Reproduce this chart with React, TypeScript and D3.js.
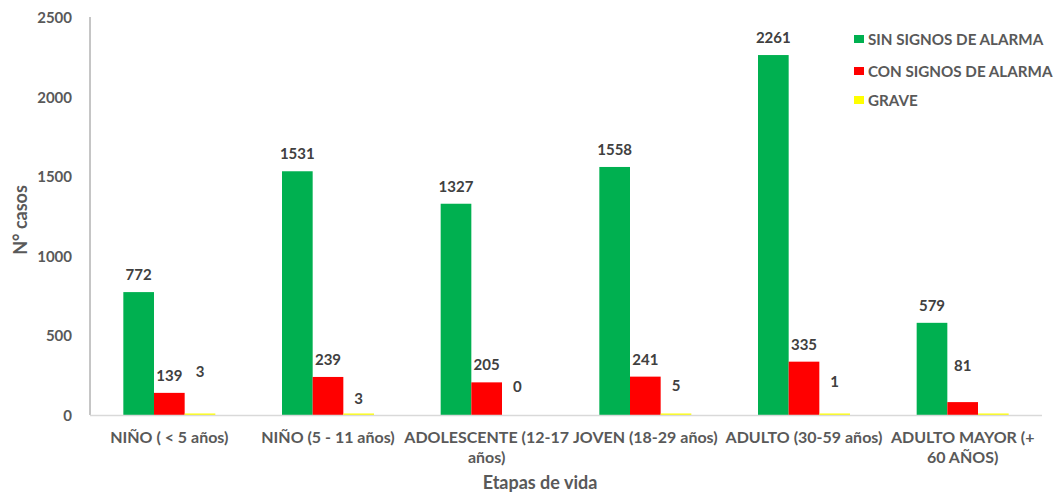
import React from "react";
import * as d3 from "d3";

const categories: string[][] = [
  ["NIÑO ( < 5 años)"],
  ["NIÑO (5 - 11 años)"],
  ["ADOLESCENTE (12-17", "años)"],
  ["JOVEN (18-29 años)"],
  ["ADULTO (30-59 años)"],
  ["ADULTO MAYOR (+", "60 AÑOS)"],
];
const seriesNames = ["SIN SIGNOS DE ALARMA", "CON SIGNOS DE ALARMA", "GRAVE"];
const sinSignos = [772, 1531, 1327, 1558, 2261, 579];
const conSignos = [139, 239, 205, 241, 335, 81];
const grave = [3, 3, 0, 5, 1, 3];
const graveLabels: (string | null)[] = ["3", "3", "0", "5", "1", null];
const yTicks = [0, 500, 1000, 1500, 2000, 2500];

const colors = ["#00B050", "#FF0000", "#FFFF00"];
// pixel lift of each data label's baseline above its bar top (style only)
const labelLift = [
  [12, 12, 12, 12, 12, 12],
  [12, 12, 12, 12, 12, 31],
  [38, 11, 23, 23, 28, 12],
];

const W = 1056;
const H = 492;
const left = 90;
const right = 1042;
const top = 17;
const bottom = 415;
const textColor = "#595959";
const font = "Lato, 'Open Sans', sans-serif";

export default function App() {
  const series = [sinSignos, conSignos, grave];
  const labels = [sinSignos.map(String), conSignos.map(String), graveLabels];
  const x0 = d3
    .scaleBand<number>()
    .domain(categories.map((_, i) => i))
    .range([left, right])
    .padding(0);
  const x1 = d3
    .scaleBand<number>()
    .domain([0, 1, 2])
    .range([-46, 46])
    .padding(0);
  const y = d3.scaleLinear().domain([0, 2500]).range([bottom, top]);

  return (
    <svg
      width={W}
      height={H}
      style={{ position: "absolute", left: 0, top: 0, background: "#fff" }}
      fontFamily={font}
      fontWeight="bold"
    >
      {/* y axis */}
      <line x1={left} x2={left} y1={top} y2={bottom} stroke="#8c8c8c" strokeWidth={1} />
      {yTicks.map((t) => (
        <text
          key={t}
          x={72}
          y={y(t)}
          textAnchor="end"
          dominantBaseline="central"
          fontSize={15}
          fill={textColor}
        >
          {t}
        </text>
      ))}
      <text
        transform={`translate(20,${(top + bottom) / 2 + 4}) rotate(-90)`}
        textAnchor="middle"
        dominantBaseline="central"
        fontSize={18}
        fill={textColor}
      >
        N° casos
      </text>

      {/* bars */}
      {series.map((vals, s) =>
        vals.map((v, i) => {
          const cx = x0(i)! + x0.bandwidth() / 2;
          const bx = cx + x1(s)!;
          const bw = x1.bandwidth();
          const yt = y(v);
          return (
            <g key={`${s}-${i}`}>
              {v > 0 && (
                <rect
                  x={bx}
                  y={Math.min(yt, bottom - 1.5)}
                  width={bw}
                  height={Math.max(bottom - yt, 1.5)}
                  fill={colors[s]}
                />
              )}
              {labels[s][i] !== null && (
                <text
                  x={bx + bw / 2}
                  y={yt - labelLift[s][i]}
                  textAnchor="middle"
                  fontSize={15}
                  fill="#404040"
                >
                  {labels[s][i]}
                </text>
              )}
            </g>
          );
        })
      )}

      {/* x axis */}
      <line x1={left} x2={right} y1={bottom + 0.5} y2={bottom + 0.5} stroke="#d9d9d9" strokeWidth={1.5} />
      {categories.map((lines, i) => {
        const cx = x0(i)! + x0.bandwidth() / 2;
        return (
          <text key={i} textAnchor="middle" fontSize={16} fill={textColor}>
            {lines.map((l, k) => (
              <tspan key={k} x={cx} y={443 + k * 20}>
                {l}
              </tspan>
            ))}
          </text>
        );
      })}
      <text x={540} y={489} textAnchor="middle" fontSize={18} fill={textColor}>
        Etapas de vida
      </text>

      {/* legend */}
      {seriesNames.map((n, s) => {
        const cy = [39, 71, 100][s];
        return (
          <g key={n}>
            <rect x={854} y={cy - 4} width={10} height={8} fill={colors[s]} />
            <text x={868} y={cy} dominantBaseline="central" fontSize={15.2} fill={textColor}>
              {n}
            </text>
          </g>
        );
      })}
    </svg>
  );
}
